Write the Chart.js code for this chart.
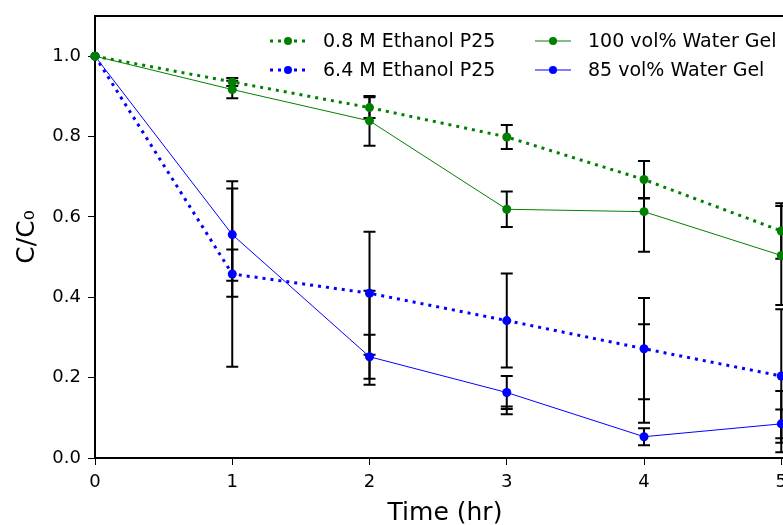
<!DOCTYPE html>
<html>
<head>
<meta charset="utf-8">
<script src="https://cdn.jsdelivr.net/npm/chart.js@4.4.0/dist/chart.umd.min.js"></script>
<style>
  html, body { margin: 0; padding: 0; background: #fff; overflow: hidden; }
  #wrap { width: 783px; height: 525px; overflow: hidden; }
</style>
</head>
<body>
<div id="wrap"><canvas id="decayChart" width="800" height="525"></canvas></div>
<script>
// time points (hr)
const times = [0, 1, 2, 3, 4, 5];

// C/C0 for each sample
const ethanol08 = [1.0, 0.936, 0.872, 0.799, 0.693, 0.565];
const ethanol64 = [1.0, 0.458, 0.41, 0.342, 0.272, 0.204];
const water100 = [1.0, 0.917, 0.839, 0.619, 0.613, 0.504];
const water85 = [1.0, 0.556, 0.252, 0.163, 0.053, 0.085];

// error bars, below / above the point
const ethanol08ErrLow = [0, 0.010, 0.026, 0.030, 0.046, 0.069];
const ethanol08ErrHigh = [0, 0.010, 0.026, 0.030, 0.046, 0.069];
const ethanol64ErrLow = [0, 0.231, 0.153, 0.117, 0.126, 0.166];
const ethanol64ErrHigh = [0, 0.231, 0.153, 0.117, 0.126, 0.166];
const water100ErrLow = [0, 0.022, 0.062, 0.044, 0.100, 0.123];
const water100ErrHigh = [0, 0.022, 0.062, 0.044, 0.033, 0.123];
const water85ErrLow = [0, 0.115, 0.055, 0.041, 0.021, 0.036];
const water85ErrHigh = [0, 0.115, 0.055, 0.041, 0.021, 0.036];

// extra replicate bars seen at some points
const extraLow = [null, 0.401, 0.182, 0.109, 0.088, 0.014];
const extraHigh = [null, 0.519, 0.416, 0.128, 0.333, 0.167];

const xTicks = [0, 1, 2, 3, 4, 5];
const xTickLabels = ["0", "1", "2", "3", "4", "5"];
const yTicks = [0, 0.2, 0.4, 0.6, 0.8, 1.0];
const yTickLabels = ["0.0", "0.2", "0.4", "0.6", "0.8", "1.0"];

const labels = ["0.8 M Ethanol P25", "6.4 M Ethanol P25", "100 vol% Water Gel", "85 vol% Water Gel"];
const GREEN = "#008000";
const BLUE = "#0000ff";
const FONT = "'DejaVu Sans', sans-serif";

function toPoints(ys) {
  return times.map((t, i) => ({ x: t, y: ys[i] }));
}

function dotted(color) {
  return { borderColor: color, backgroundColor: color, borderWidth: 3, borderDash: [3, 5], borderCapStyle: "butt",
    pointRadius: 4.5, pointBorderWidth: 0, pointBackgroundColor: color };
}
function solid(color) {
  return { borderColor: color, backgroundColor: color, borderWidth: 1, borderDash: [],
    pointRadius: 4.5, pointBorderWidth: 0, pointBackgroundColor: color };
}

const errorSets = [
  [ethanol08ErrLow, ethanol08ErrHigh],
  [ethanol64ErrLow, ethanol64ErrHigh],
  [water100ErrLow, water100ErrHigh],
  [water85ErrLow, water85ErrHigh],
];

const errorBarPlugin = {
  id: "errorBars",
  beforeDatasetsDraw(chart) {
    const { ctx, scales: { x, y } } = chart;
    ctx.save();
    ctx.strokeStyle = "#000";
    ctx.lineWidth = 2;
    const cap = 6;
    function bar(t, lo, hi) {
      const px = x.getPixelForValue(t);
      const p1 = y.getPixelForValue(lo);
      const p2 = y.getPixelForValue(hi);
      ctx.beginPath();
      ctx.moveTo(px, p1); ctx.lineTo(px, p2);
      ctx.moveTo(px - cap, p1); ctx.lineTo(px + cap, p1);
      ctx.moveTo(px - cap, p2); ctx.lineTo(px + cap, p2);
      ctx.stroke();
    }
    chart.data.datasets.forEach((ds, di) => {
      const [lo, hi] = errorSets[di];
      ds.data.forEach((p, i) => {
        if (lo[i] > 0 || hi[i] > 0) bar(p.x, p.y - lo[i], p.y + hi[i]);
      });
    });
    times.forEach((t, i) => {
      if (extraLow[i] !== null) bar(t, extraLow[i], extraHigh[i]);
    });
    ctx.restore();
  }
};

const framePlugin = {
  id: "frame",
  afterDraw(chart) {
    const { ctx, chartArea: a } = chart;
    ctx.save();
    ctx.strokeStyle = "#000";
    ctx.lineWidth = 2;
    ctx.beginPath();
    ctx.moveTo(a.left, a.top);
    ctx.lineTo(a.right, a.top);
    ctx.lineTo(a.right, a.bottom);
    ctx.stroke();
    ctx.restore();
  }
};

// two-column legend in the upper right corner
const legendPlugin = {
  id: "cornerLegend",
  afterDraw(chart) {
    const { ctx } = chart;
    const cols = [270, 535];
    const rows = [41, 70];
    const handle = 36;
    const gap = 17;
    ctx.save();
    ctx.font = "19px " + FONT;
    ctx.textBaseline = "middle";
    ctx.textAlign = "left";
    chart.data.datasets.forEach((ds, i) => {
      const x0 = cols[Math.floor(i / 2)];
      const yy = rows[i % 2];
      ctx.strokeStyle = ds.borderColor;
      ctx.lineWidth = ds.borderWidth;
      ctx.setLineDash(ds.borderDash);
      ctx.beginPath();
      ctx.moveTo(x0, yy);
      ctx.lineTo(x0 + handle, yy);
      ctx.stroke();
      ctx.setLineDash([]);
      ctx.fillStyle = ds.borderColor;
      ctx.beginPath();
      ctx.arc(x0 + handle / 2, yy, 4, 0, Math.PI * 2);
      ctx.fill();
      ctx.fillStyle = "#000";
      ctx.fillText(ds.label, x0 + handle + gap, yy + 1);
    });
    ctx.restore();
  }
};

const ctx = document.getElementById("decayChart").getContext("2d");
new Chart(ctx, {
  type: "line",
  data: {
    datasets: [
      { label: labels[0], data: toPoints(ethanol08), ...dotted(GREEN) },
      { label: labels[1], data: toPoints(ethanol64), ...dotted(BLUE) },
      { label: labels[2], data: toPoints(water100), ...solid(GREEN) },
      { label: labels[3], data: toPoints(water85), ...solid(BLUE) },
    ],
  },
  options: {
    responsive: false,
    animation: false,
    events: [],
    clip: false,
    elements: {
      line: { tension: 0 },
    },
    layout: { padding: { top: 16, right: 5, left: 0, bottom: 0 } },
    plugins: { legend: { display: false }, tooltip: { enabled: false } },
    scales: {
      x: {
        type: "linear",
        min: 0,
        max: 5.1,
        afterBuildTicks: (scale) => { scale.ticks = xTicks.map((v) => ({ value: v })); },
        afterFit: (scale) => { scale.height = 67; scale.paddingLeft = 0; scale.paddingRight = 0; },
        ticks: {
          color: "#000",
          font: { family: FONT, size: 18 },
          padding: 7,
          maxRotation: 0,
          callback: (v) => xTickLabels[xTicks.indexOf(v)],
        },
        grid: { drawOnChartArea: false, drawTicks: true, tickLength: 7, color: "#000", lineWidth: 1 },
        border: { display: true, color: "#000", width: 2 },
        title: { display: true, text: "Time (hr)", color: "#000", font: { family: FONT, size: 25 }, padding: { top: 0, bottom: -3 } },
      },
      y: {
        type: "linear",
        min: 0,
        max: 1.1,
        afterBuildTicks: (scale) => { scale.ticks = yTicks.map((v) => ({ value: v })); },
        afterFit: (scale) => { scale.width = 95; scale.paddingTop = 0; scale.paddingBottom = 0; },
        ticks: {
          color: "#000",
          font: { family: FONT, size: 18 },
          padding: 7,
          callback: (v) => yTickLabels[yTicks.indexOf(v)],
        },
        grid: { drawOnChartArea: false, drawTicks: true, tickLength: 7, color: "#000", lineWidth: 1 },
        border: { display: true, color: "#000", width: 2 },
        title: { display: true, text: "C/C\u2080", color: "#000", font: { family: FONT, size: 25 }, padding: { top: 12, bottom: 0 } },
      },
    },
  },
  plugins: [errorBarPlugin, framePlugin, legendPlugin],
});
</script>
</body>
</html>
